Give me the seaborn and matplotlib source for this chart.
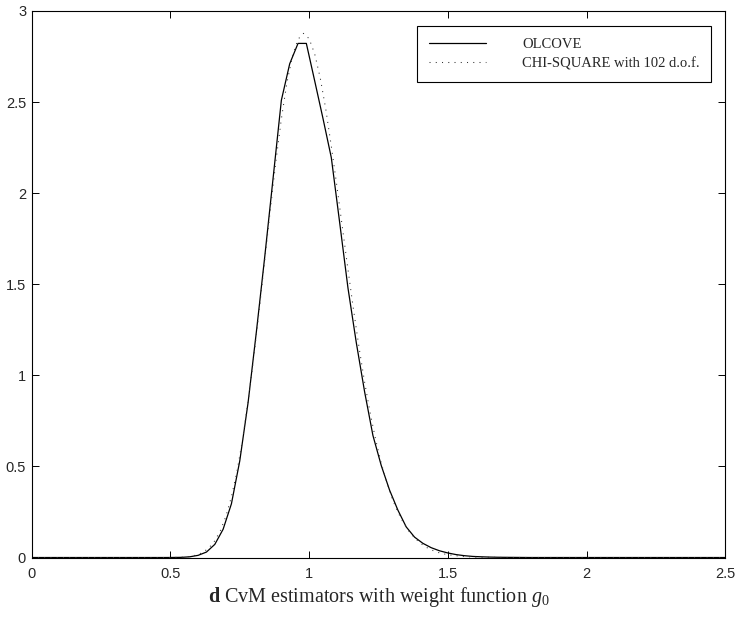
import matplotlib
matplotlib.use("Agg")
import matplotlib.pyplot as plt
import seaborn as sns
import pandas as pd

# Empirical density of the CvM estimator (OLCOVE), knots every 0.03
olcove_x = [0.00, 0.48, 0.51, 0.54, 0.57, 0.60, 0.63, 0.66, 0.69, 0.72,
            0.75, 0.78, 0.81, 0.84, 0.87, 0.90, 0.93, 0.96, 0.99, 1.02,
            1.05, 1.08, 1.11, 1.14, 1.17, 1.20, 1.23, 1.26, 1.29, 1.32,
            1.35, 1.38, 1.41, 1.44, 1.47, 1.50, 1.53, 1.56, 1.59, 1.62,
            1.65, 1.68, 1.71, 1.80, 2.50]
olcove_y = [0.0, 0.0, 0.0003, 0.001, 0.004, 0.012, 0.030, 0.072, 0.155, 0.295,
            0.530, 0.850, 1.240, 1.650, 2.080, 2.510, 2.710, 2.822, 2.822, 2.617,
            2.410, 2.195, 1.840, 1.480, 1.180, 0.910, 0.670, 0.505, 0.370, 0.260,
            0.168, 0.112, 0.078, 0.054, 0.037, 0.025, 0.016, 0.010, 0.006, 0.004,
            0.0025, 0.0015, 0.001, 0.0, 0.0]

# Scaled chi-square reference density (102 d.o.f.)
chi_x = [0.00, 0.46, 0.50, 0.52, 0.54, 0.56, 0.58, 0.60, 0.62, 0.64, 0.66,
         0.68, 0.70, 0.72, 0.74, 0.76, 0.78, 0.80, 0.82, 0.84, 0.86,
         0.88, 0.90, 0.92, 0.94, 0.96, 0.98, 1.00, 1.02, 1.04, 1.06,
         1.08, 1.10, 1.12, 1.14, 1.16, 1.18, 1.20, 1.22, 1.24, 1.26,
         1.28, 1.30, 1.32, 1.34, 1.36, 1.38, 1.40, 1.42, 1.44, 1.46,
         1.48, 1.50, 1.55, 1.60, 1.70, 2.50]
chi_y = [0.0, 0.0, 0.0003, 0.0008, 0.0018, 0.0041, 0.0085, 0.0167, 0.031, 0.0546, 0.0917,
         0.147, 0.226, 0.333, 0.473, 0.647, 0.855, 1.094, 1.356, 1.632, 1.907,
         2.172, 2.408, 2.606, 2.753, 2.845, 2.877, 2.848, 2.765, 2.633, 2.462,
         2.258, 2.040, 1.811, 1.582, 1.361, 1.153, 0.963, 0.794, 0.646, 0.518,
         0.411, 0.321, 0.249, 0.190, 0.144, 0.108, 0.080, 0.058, 0.042, 0.030,
         0.0217, 0.0153, 0.0062, 0.0024, 0.0003, 0.0]

series_labels = ["OLCOVE", "CHI-SQUARE with 102 d.o.f."]
x_ticks = [0, 0.5, 1, 1.5, 2, 2.5]
x_tick_labels = ["0", "0.5", "1", "1.5", "2", "2.5"]
y_ticks = [0, 0.5, 1, 1.5, 2, 2.5, 3]
y_tick_labels = ["0", "0.5", "1", "1.5", "2", "2.5", "3"]
x_label = r"$\mathbf{d}$ CvM estimators with weight function $g_0$"

sns.set_style("ticks")
plt.rcParams["font.family"] = ["Liberation Sans", "DejaVu Sans"]
plt.rcParams["mathtext.fontset"] = "custom"
plt.rcParams["mathtext.rm"] = "Liberation Serif"
plt.rcParams["mathtext.it"] = "Liberation Serif:italic"
plt.rcParams["mathtext.bf"] = "Liberation Serif:bold"

df_olcove = pd.DataFrame({"x": olcove_x, "y": olcove_y})
df_chi = pd.DataFrame({"x": chi_x, "y": chi_y})

fig = plt.figure(figsize=(7.4, 6.17), dpi=100)
ax = fig.add_axes([0.0428, 0.0964, 0.9373, 0.8858])

sns.lineplot(data=df_olcove, x="x", y="y", ax=ax, color="black",
             linewidth=0.9, label=series_labels[0], sort=False)
sns.lineplot(data=df_chi, x="x", y="y", ax=ax, color="#333333",
             linewidth=0.75, linestyle=(0, (1, 5)), label=series_labels[1],
             sort=False)

ax.set_xlim(0, 2.5)
ax.set_ylim(0, 3)
ax.set_xticks(x_ticks)
ax.set_xticklabels(x_tick_labels)
ax.set_yticks(y_ticks)
ax.set_yticklabels(y_tick_labels)
ax.tick_params(direction="in", length=5, width=0.7, color="black",
               labelsize=10.5, top=True, right=True)
ax.tick_params(axis="x", pad=7)
ax.tick_params(axis="y", pad=4)
for sp in ax.spines.values():
    sp.set_visible(True)
    sp.set_color("black")
    sp.set_linewidth(0.8)

ax.set_ylabel("")
ax.set_xlabel(x_label, family="Liberation Serif", fontsize=14.5, labelpad=3)

leg = ax.legend(loc="upper right", bbox_to_anchor=(0.98, 0.973),
                prop={"family": "Liberation Serif", "size": 10.5},
                frameon=True, fancybox=False, framealpha=1,
                edgecolor="black", handlelength=3.95, handletextpad=2.45,
                borderpad=0.8, labelspacing=0.45, borderaxespad=0)
leg.get_frame().set_linewidth(0.8)

fig.savefig("out.png", dpi=100)
